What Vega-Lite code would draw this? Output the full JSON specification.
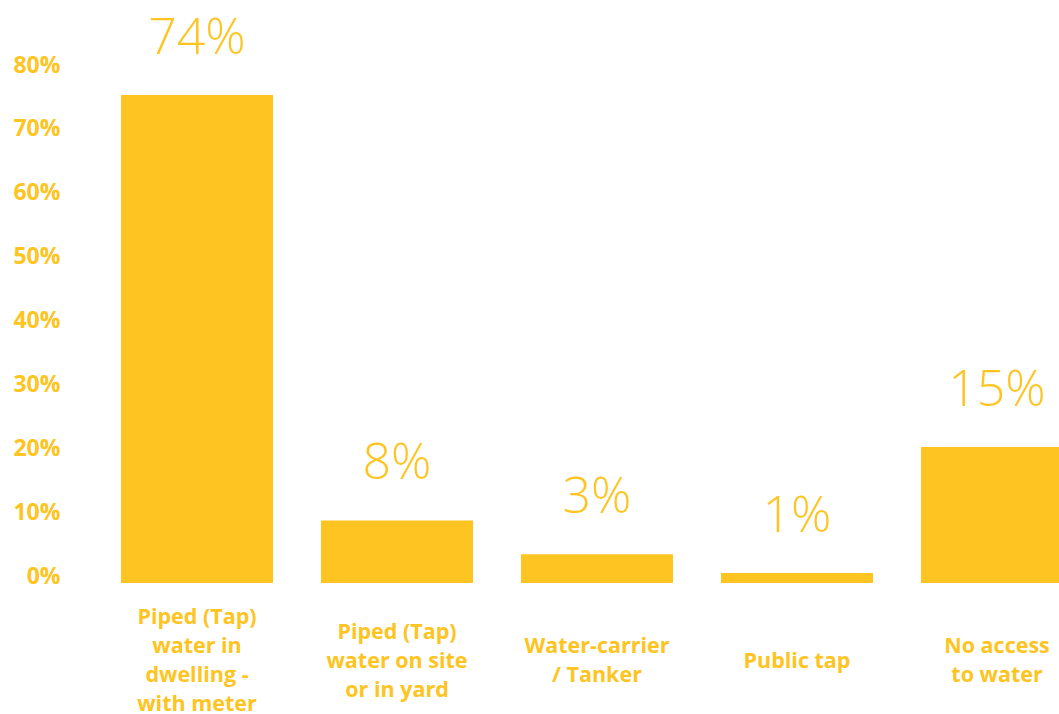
{
  "$schema": "https://vega.github.io/schema/vega-lite/v6.json",
  "autosize": "none",
  "width": 1000,
  "height": 583,
  "padding": {"left": 97, "top": 0, "right": 0, "bottom": 131},
  "background": "white",
  "config": {"view": {"stroke": null}},
  "data": {
    "values": [
      {"category": "Piped (Tap)|water in|dwelling -|with meter", "value": 0.764, "label": "74%"},
      {"category": "Piped (Tap)|water on site|or in yard", "value": 0.098, "label": "8%"},
      {"category": "Water-carrier|/ Tanker", "value": 0.045, "label": "3%"},
      {"category": "Public tap", "value": 0.0157, "label": "1%"},
      {"category": "No access|to water", "value": 0.213, "label": "15%"}
    ]
  },
  "encoding": {
    "x": {
      "field": "category",
      "type": "nominal",
      "sort": null,
      "scale": {"paddingInner": 0.24, "paddingOuter": 0.12},
      "axis": {
        "title": null,
        "labelAngle": 0,
        "labelExpr": "split(datum.label, '|')",
        "labelFont": "Open Sans",
        "labelFontWeight": "bold",
        "labelFontSize": 21.5,
        "labelColor": "#FEC421",
        "labelLineHeight": 29,
        "labelBaseline": "middle",
        "labelPadding": {
          "condition": [
            {"test": "length(split(datum.value, '|')) == 4", "value": 34.5},
            {"test": "length(split(datum.value, '|')) == 3", "value": 49},
            {"test": "length(split(datum.value, '|')) == 2", "value": 63.5}
          ],
          "value": 78
        },
        "ticks": false,
        "domain": false,
        "grid": false
      }
    },
    "y": {
      "field": "value",
      "type": "quantitative",
      "scale": {"domain": [0, 0.9128], "nice": false},
      "axis": {
        "title": null,
        "values": [0, 0.1, 0.2, 0.3, 0.4, 0.5, 0.6, 0.7, 0.8],
        "format": ".0%",
        "labelFont": "Open Sans",
        "labelFontWeight": "bold",
        "labelFontSize": 23,
        "labelColor": "#FEC421",
        "labelBaseline": "alphabetic",
        "labelPadding": 37,
        "ticks": false,
        "domain": false,
        "grid": false
      }
    }
  },
  "layer": [
    {"mark": {"type": "bar", "color": "#FEC421"}},
    {
      "mark": {
        "type": "text",
        "color": "#FEC421",
        "font": "Open Sans",
        "fontWeight": 300,
        "fontSize": 50,
        "baseline": "alphabetic",
        "dy": -41
      },
      "encoding": {"text": {"field": "label"}}
    }
  ]
}
